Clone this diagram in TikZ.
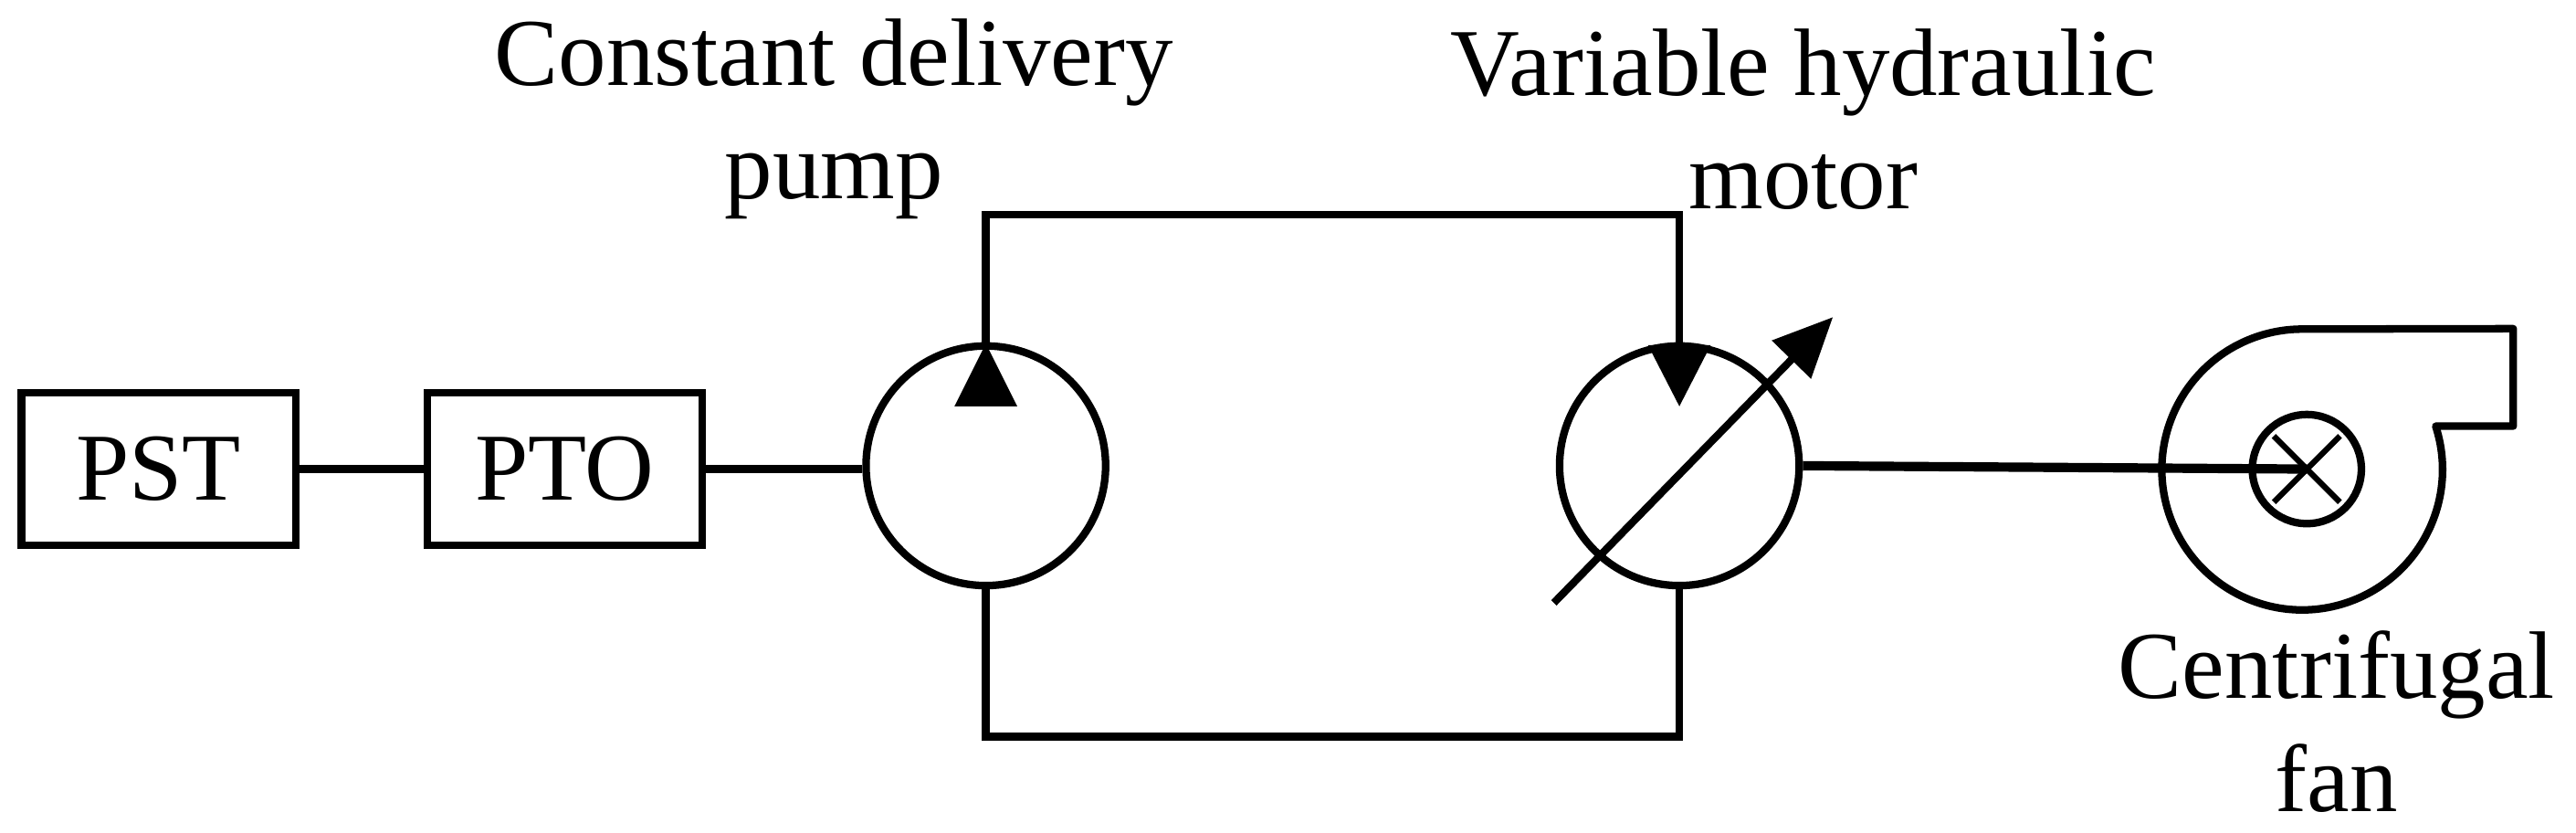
\documentclass[tikz,border=0pt]{standalone}
\usepackage{fontspec}
\setmainfont{Liberation Serif}
\usetikzlibrary{arrows.meta}
\begin{document}
\begin{tikzpicture}[x=0.01cm,y=-0.01cm,
  ln/.style={line width=1.3pt},
  box/.style={draw,line width=1.3pt,minimum width=1.66cm,minimum height=0.92cm,inner sep=0pt,font=\fontsize{16.5}{16.5}\selectfont},
  unit/.style={draw,circle,line width=1.3pt,minimum size=1.45cm,inner sep=0pt},
  lbl/.style={align=center,font=\fontsize{16.5}{19.5}\selectfont}]
\useasboundingbox (0,0) rectangle (1560,504);
\node[box] (pst) at (96,284) {PST};
\node[box] (pto) at (342,284) {PTO};
\node[unit] (pump) at (597,282) {};
\node[unit] (motor) at (1017,282) {};
\coordinate (fan) at (1397,284);
\draw[ln] (pst.east) -- (pto.west);
\draw[ln] (pto.east) -- (pto.east -| pump.west);
\draw[ln] (pump.north) -- (597,130) -- (1017,130) -- (motor.north);
\draw[ln] (pump.south) -- (597,446) -- (1017,446) -- (motor.south);
% triangles
\fill (597,208) -- (578,246) -- (616,246) -- cycle;
\fill (1017,246) -- (998,209) -- (1036,209) -- cycle;
% variable arrow
\draw[ln,-{Triangle[length=0.36cm,width=0.32cm]}] (941,365) -- (1110,192);
% shaft
\draw[line width=1.6pt] (motor.east) -- (fan);
% fan casing
\draw[ln,line join=round] (1522,258) -- (1475,258) arc[start angle=-18,end angle=270,radius=85] -- (1522,199) -- cycle;
\node[draw,circle,line width=1.3pt,minimum size=0.66cm,inner sep=0pt] (imp) at (fan) {};
\draw[line width=1pt] (1377,264) -- (1417,304) (1377,304) -- (1417,264);
\node[lbl] (l1) at (505,72) {Constant delivery\\pump};
\node[lbl] (l2) at (1092,72) {Variable hydraulic\\motor};
\node[lbl] (l3) at (1415,437) {Centrifugal\\fan};
\end{tikzpicture}
\end{document}
